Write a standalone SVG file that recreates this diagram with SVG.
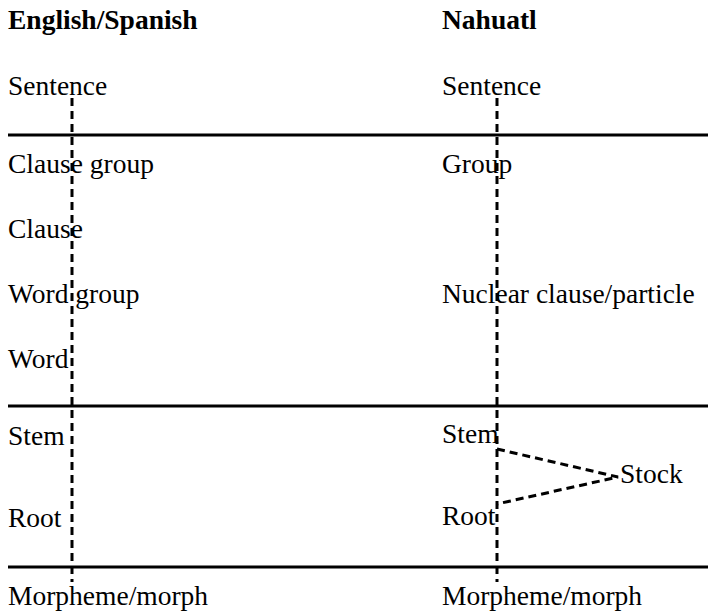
<svg xmlns="http://www.w3.org/2000/svg" width="708" height="611" viewBox="0 0 708 611">
<style>
text{font-family:"Liberation Serif","Times New Roman",serif;font-size:27.5px;fill:#000}
.h{font-weight:bold}
.rule{stroke:#000;stroke-width:3;fill:none}
.dash{stroke:#000;stroke-width:3;stroke-dasharray:8 5;fill:none}
</style>
<rect width="708" height="611" fill="#fff"/>
<g id="rules">
<line class="rule" x1="8" y1="135" x2="708" y2="135"/>
<line class="rule" x1="8" y1="406" x2="708" y2="406"/>
<line class="rule" x1="8" y1="567" x2="708" y2="567"/>
</g>
<g id="connectors">
<line class="dash" x1="72" y1="98" x2="72" y2="582"/>
<line class="dash" x1="497" y1="98" x2="497" y2="582"/>
<polyline class="dash" points="497,449 618,477 497,504"/>
</g>
<g id="heading-left"><text class="h" x="8" y="29">English/Spanish</text></g>
<g id="heading-right"><text class="h" x="442" y="29">Nahuatl</text></g>
<g id="l-sentence"><text x="8" y="95">Sentence</text></g>
<g id="l-clausegroup"><text x="8" y="173">Clause group</text></g>
<g id="l-clause"><text x="8" y="238">Clause</text></g>
<g id="l-wordgroup"><text x="8" y="303">Word group</text></g>
<g id="l-word"><text x="8" y="368">Word</text></g>
<g id="l-stem"><text x="8" y="445">Stem</text></g>
<g id="l-root"><text x="8" y="527">Root</text></g>
<g id="l-morpheme"><text x="8" y="605">Morpheme/morph</text></g>
<g id="r-sentence"><text x="442" y="95">Sentence</text></g>
<g id="r-group"><text x="442" y="173">Group</text></g>
<g id="r-nuclear"><text x="442" y="303">Nuclear clause/particle</text></g>
<g id="r-stem"><text x="442" y="443">Stem</text></g>
<g id="r-root"><text x="442" y="525">Root</text></g>
<g id="r-stock"><text x="620" y="483">Stock</text></g>
<g id="r-morpheme"><text x="442" y="605">Morpheme/morph</text></g>
</svg>
